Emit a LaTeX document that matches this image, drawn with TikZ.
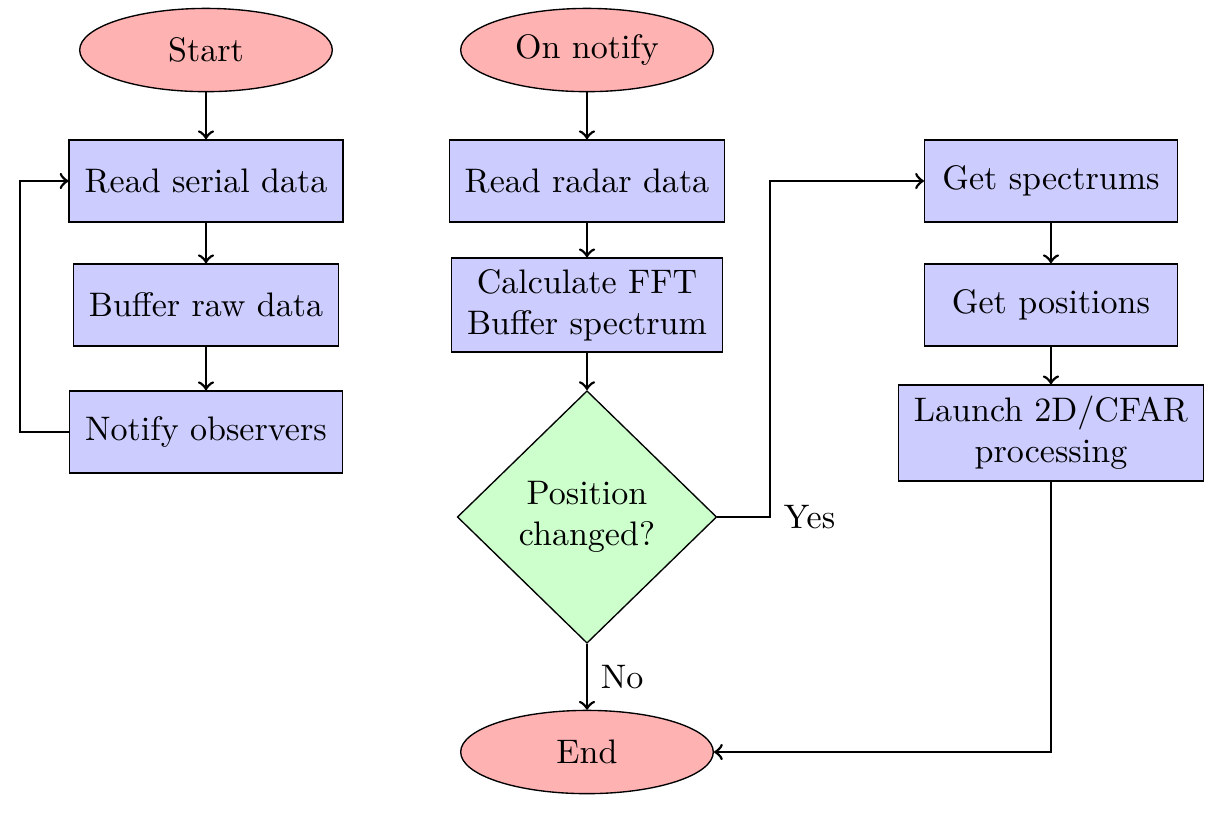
\documentclass[tikz,border=0pt]{standalone}
\usetikzlibrary{shapes.geometric}

\tikzset{terminal/.style={ellipse,draw,fill=red!30,minimum width=2.61cm,minimum height=0.86cm,inner sep=0.1cm},
process/.style={rectangle,draw,fill=blue!20,minimum width=2.61cm,minimum height=0.85cm,inner xsep=0.16cm,align=center},
decision/.style={diamond,draw,fill=green!20,aspect=1,minimum width=2.68cm,align=center},
flow/.style={thick,->},
branch label/.style={anchor=west,inner sep=0.13cm}}

\begin{document}
\begin{tikzpicture}
\useasboundingbox (0,0) rectangle (12.531,8.399);

%% Coordinates of nodes.
\coordinate (n1) at (2.128,7.882);
\coordinate (n2) at (2.128,6.529);
\coordinate (n3) at (2.128,5.248);
\coordinate (n4) at (2.128,3.936);
\coordinate (n5) at (6.064,7.882);
\coordinate (n6) at (6.064,6.529);
\coordinate (n7) at (6.064,5.248);
\coordinate (n8) at (6.064,3.058);
\coordinate (n9) at (6.064,0.630);
\coordinate (n10) at (10.857,6.529);
\coordinate (n11) at (10.857,5.248);
\coordinate (n12) at (10.857,3.926);

%% Coordinates of bends.
\coordinate (loop) at (0.207,6.529);
\coordinate (yes) at (7.955,3.058);

%% terminals
\node [terminal] (start) at (n1) {Start};
\node [terminal] (notified) at (n5) {On notify};
\node [terminal] (end) at (n9) {End};

%% processes
\node [process] (readserial) at (n2) {Read serial data};
\node [process] (bufferraw) at (n3) {Buffer raw data};
\node [process] (notify) at (n4) {Notify observers};
\node [process] (readradar) at (n6) {Read radar data};
\node [process] (fft) at (n7) {Calculate FFT\\Buffer spectrum};
\node [process] (spectrums) at (n10) {Get spectrums};
\node [process] (positions) at (n11) {Get positions};
\node [process] (cfar) at (n12) {Launch 2D/CFAR\\processing};

%% decision
\node [decision] (changed) at (n8) {Position\\changed?};

%% serial reader loop
\draw [flow] (start) -- (readserial);
\draw [flow] (readserial) -- (bufferraw);
\draw [flow] (bufferraw) -- (notify);
\draw [flow] (notify.west) -| (loop) -- (readserial.west);

%% radar processing
\draw [flow] (notified) -- (readradar);
\draw [flow] (readradar) -- (fft);
\draw [flow] (fft) -- (changed);
\draw [flow] (changed.south) -- node [branch label] {No} (end.north);
\draw [flow] (changed.east) -- (yes) node [branch label] {Yes} |- (spectrums.west);
\draw [flow] (spectrums) -- (positions);
\draw [flow] (positions) -- (cfar);
\draw [flow] (cfar.south) |- (end.east);

\end{tikzpicture}
\end{document}
